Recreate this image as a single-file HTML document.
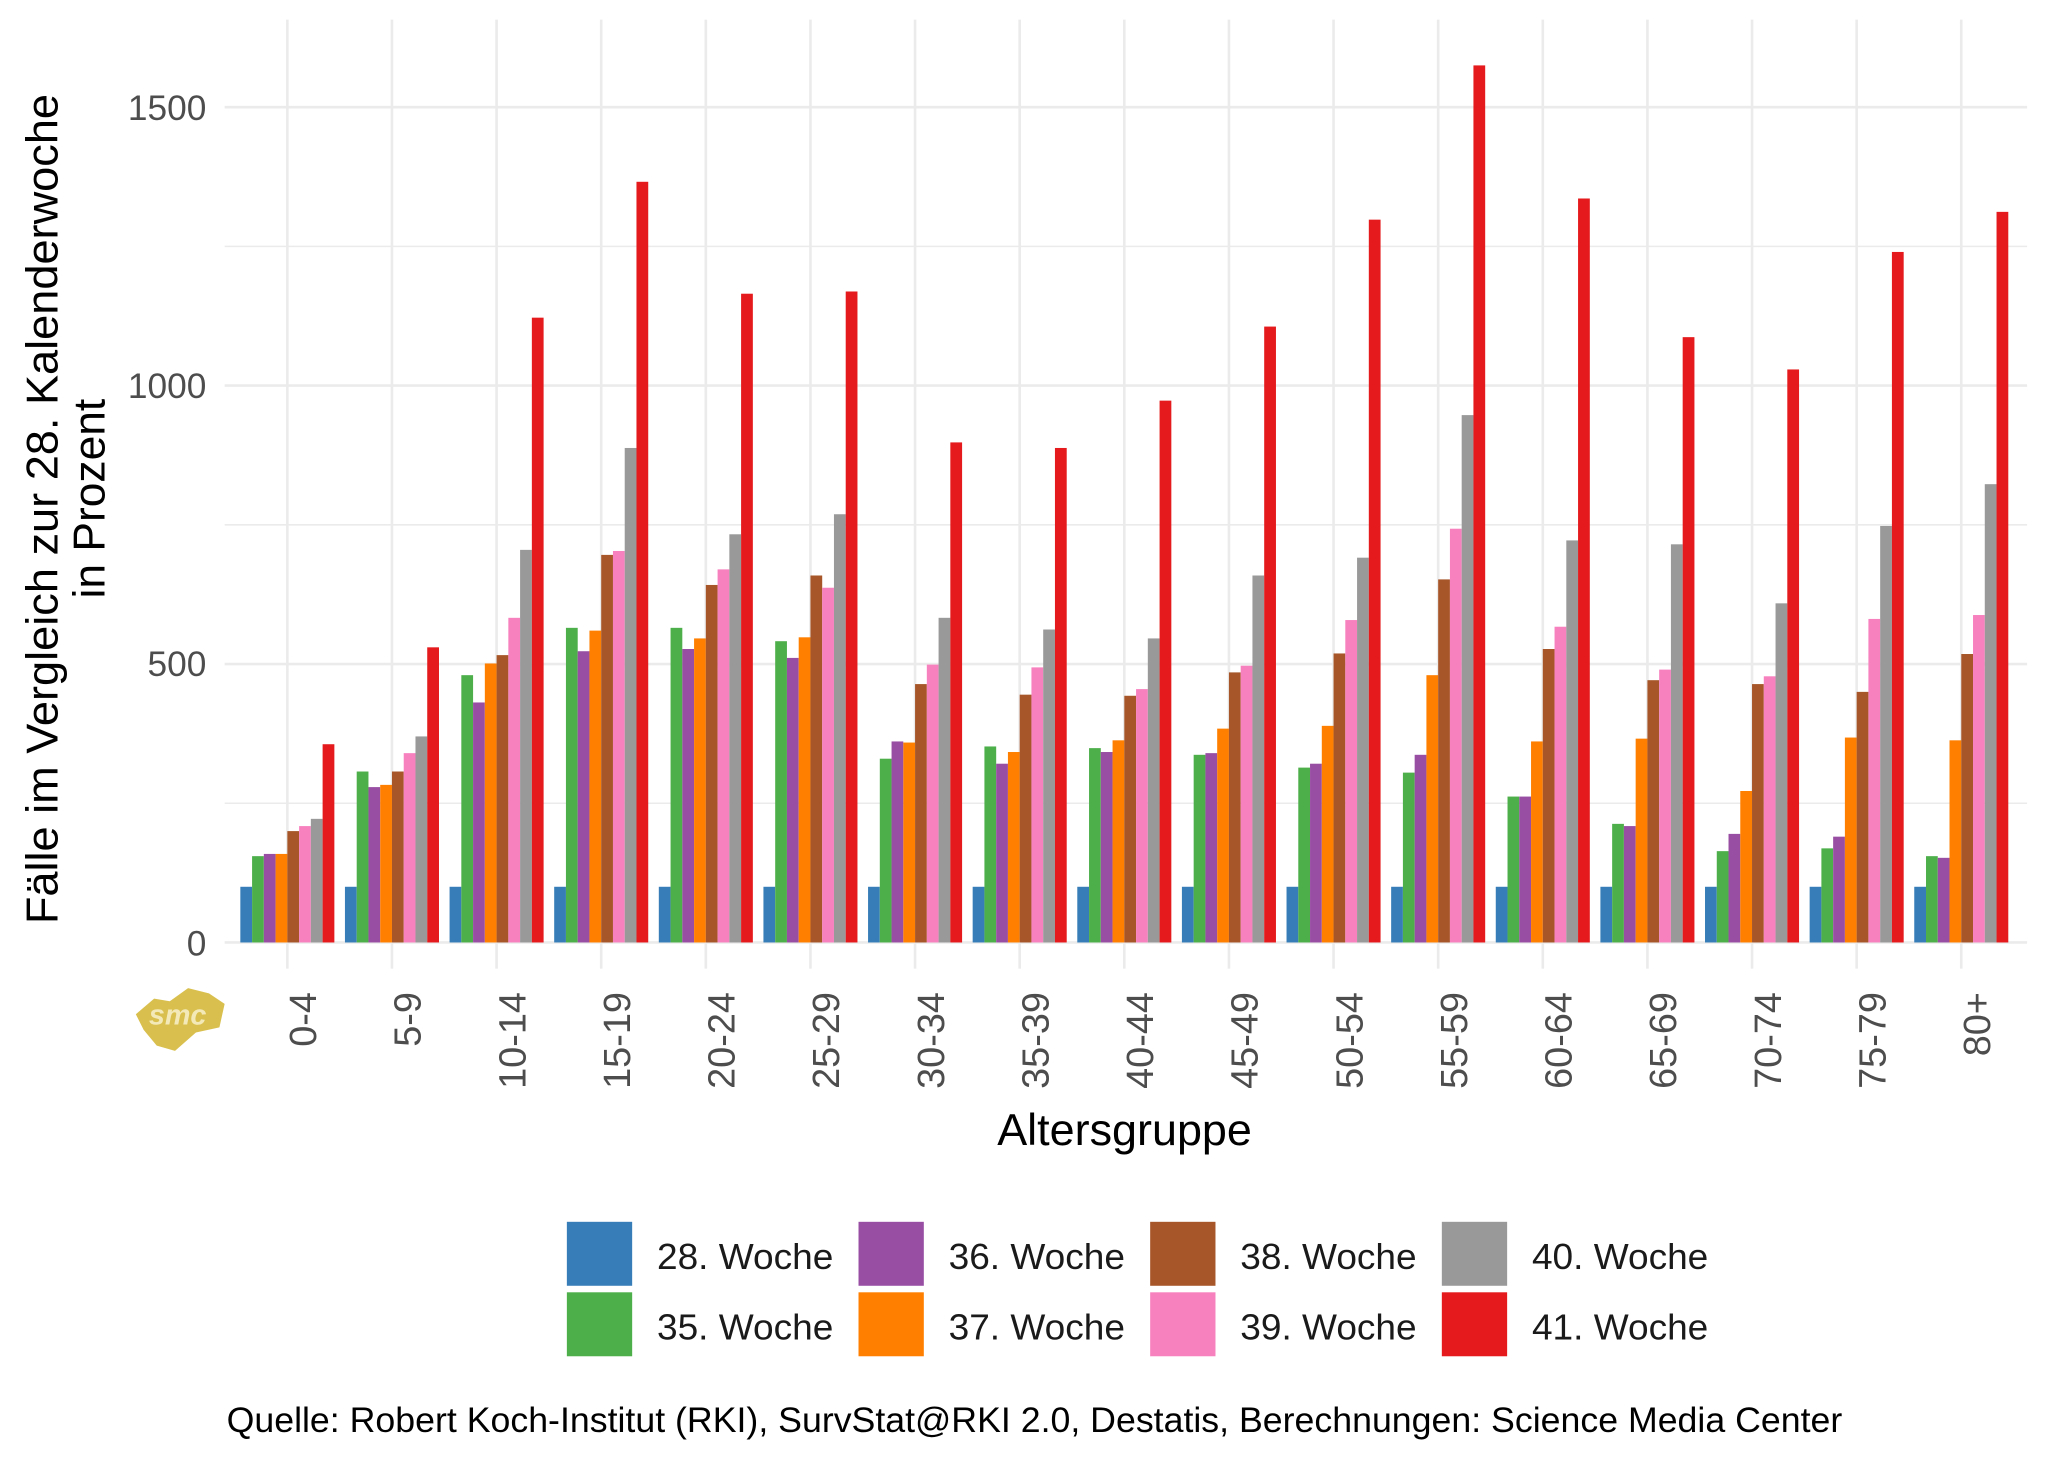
<!DOCTYPE html>
<html><head><meta charset="utf-8"><style>
html,body{margin:0;padding:0;background:#fff}
svg{display:block}
text{font-family:"Liberation Sans",sans-serif}
</style></head><body>
<svg id="s" width="2048" height="1462" viewBox="0 0 1568 1120" preserveAspectRatio="none" xmlns="http://www.w3.org/2000/svg">
<rect width="1568" height="1120" fill="#fff"/>
<g id="grid" stroke="#ebebeb"></g>
<g id="bars"></g>
<g font-size="27" fill="#4d4d4d" text-anchor="end">
<text x="158" y="732">0</text>
<text x="158" y="518">500</text>
<text x="158" y="305">1000</text>
<text x="158" y="92">1500</text>
</g>
<g id="xl" font-size="29" fill="#4d4d4d"></g>
<text transform="translate(44,390) rotate(-90)" font-size="34" text-anchor="middle" fill="#000" textLength="636" lengthAdjust="spacingAndGlyphs">Fälle im Vergleich zur 28. Kalenderwoche</text>
<text transform="translate(80,382) rotate(-90)" font-size="34" text-anchor="middle" fill="#000" textLength="153" lengthAdjust="spacingAndGlyphs">in Prozent</text>
<text x="861" y="877" font-size="34" text-anchor="middle" fill="#000" textLength="195" lengthAdjust="spacingAndGlyphs">Altersgruppe</text>
<g id="leg" font-size="28" fill="#1a1a1a"></g>
<text x="792" y="1097" font-size="27" text-anchor="middle" fill="#000" textLength="1237" lengthAdjust="spacingAndGlyphs">Quelle: Robert Koch-Institut (RKI), SurvStat@RKI 2.0, Destatis, Berechnungen: Science Media Center</text>
<g transform="translate(138,775)">
<polygon points="-34,2 -20,-10 -8,-8 6,-18 22,-14 34,-6 30,12 12,16 -4,30 -18,26 -28,14" fill="#d9c04e"/>
<text x="-2" y="10" font-size="22" font-weight="bold" fill="#f3e9b8" text-anchor="middle" font-style="italic">smc</text>
</g>
</svg>
<script>
var NS="http://www.w3.org/2000/svg";
function el(t,a,p,txt){var e=document.createElementNS(NS,t);for(var k in a)e.setAttribute(k,a[k]);if(txt)e.textContent=txt;document.getElementById(p).appendChild(e);return e;}
var cols=["#377EB8","#4DAF4A","#984EA3","#FF7F00","#A65628","#F781BF","#999999","#E41A1C"];
var labs=["0-4","5-9","10-14","15-19","20-24","25-29","30-34","35-39","40-44","45-49","50-54","55-59","60-64","65-69","70-74","75-79","80+"];
var d=[
[100,155,159,159,200,209,222,356],
[100,307,279,283,307,340,370,530],
[100,480,431,501,516,583,705,1122],
[100,565,523,560,696,703,888,1366],
[100,565,527,546,642,670,733,1165],
[100,541,511,548,659,637,769,1169],
[100,330,361,359,464,499,583,898],
[100,352,321,342,445,494,562,888],
[100,349,342,363,443,455,546,973],
[100,337,340,384,485,497,659,1106],
[100,314,321,389,519,579,691,1298],
[100,305,337,480,652,743,947,1575],
[100,262,262,361,527,567,722,1336],
[100,213,209,366,471,490,715,1087],
[100,164,195,272,464,478,609,1029],
[100,169,190,368,450,581,748,1240],
[100,155,152,363,518,588,823,1312]];
var y0=722,k=213.3/500;
[0,250,500,750,1000,1250,1500].forEach(function(v){var y=y0-v*k;el("line",{x1:172,x2:1552,y1:y,y2:y,"stroke-width":v%500?1.2:2},"grid");});
for(var i=0;i<17;i++){var cx=220+i*80.1;
el("line",{x1:cx,x2:cx,y1:15,y2:742,"stroke-width":2},"grid");
for(var j=0;j<8;j++){var h=d[i][j]*k;el("rect",{x:cx-36+j*9,y:y0-h,width:9,height:h,fill:cols[j]},"bars");}
el("text",{transform:"translate("+(cx+22)+",760) rotate(-90)","text-anchor":"end"},"xl",labs[i]);}
var L=[["28. Woche",0],["36. Woche",2],["38. Woche",4],["40. Woche",6],["35. Woche",1],["37. Woche",3],["39. Woche",5],["41. Woche",7]];
L.forEach(function(l,n){var c=n%4,r=Math.floor(n/4);var x=434+c*223.3,y=936+r*54;
el("rect",{x:x,y:y,width:50,height:49,fill:cols[l[1]]},"leg");
el("text",{x:x+69,y:y+36,textLength:135,lengthAdjust:"spacingAndGlyphs"},"leg",l[0]);});
</script>
</body></html>
